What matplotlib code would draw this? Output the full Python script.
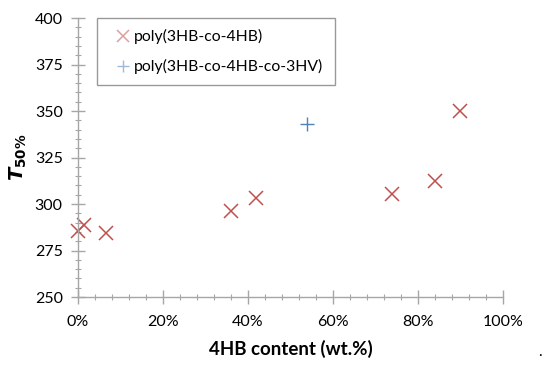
import matplotlib
matplotlib.use("Agg")
import matplotlib.pyplot as plt
from matplotlib.ticker import MultipleLocator, PercentFormatter

plt.rcParams['font.family'] = ['Lato', 'DejaVu Sans']

x1 = [0.0, 1.5, 6.5, 36.0, 42.0, 74.0, 84.0, 90.0]
y1 = [285.5, 288.5, 284.5, 296.0, 303.0, 305.5, 312.5, 350.0]
x2 = [54.0]
y2 = [343.0]
label1 = "poly(3HB-co-4HB)"
label2 = "poly(3HB-co-4HB-co-3HV)"

fig = plt.figure(figsize=(5.5, 3.66), dpi=100)
ax = fig.add_axes([0.1418, 0.1885, 0.7727, 0.7623])
ax.plot(x1, y1, linestyle='none', marker='x', color='#C0504D', markersize=10, markeredgewidth=1.1, label=label1, clip_on=False)
ax.plot(x2, y2, linestyle='none', marker='+', color='#4F81BD', markersize=10, markeredgewidth=1.0, label=label2, clip_on=False)

ax.set_xlim(0, 100)
ax.set_ylim(250, 400)
ax.xaxis.set_major_locator(MultipleLocator(20))
ax.xaxis.set_minor_locator(MultipleLocator(4))
ax.yaxis.set_major_locator(MultipleLocator(25))
ax.yaxis.set_minor_locator(MultipleLocator(5))
ax.xaxis.set_major_formatter(PercentFormatter(decimals=0))

for s in ['top', 'right']:
    ax.spines[s].set_visible(False)
for s in ['left', 'bottom']:
    ax.spines[s].set_color('#A6A6A6')
    ax.spines[s].set_linewidth(1.0)
ax.tick_params(which='major', direction='inout', length=10, width=1.0, color='#A6A6A6', labelsize=11.5)
ax.tick_params(which='minor', direction='inout', length=5, width=0.8, color='#A6A6A6')
ax.tick_params(axis='x', which='major', pad=8)
ax.tick_params(axis='y', which='major', pad=6)

ax.set_xlabel("4HB content (wt.%)", fontsize=13.5, fontweight='bold', labelpad=8)
ax.set_ylabel(r"$\boldsymbol{T}_{\mathbf{50\%}}$", fontsize=14, labelpad=4)

leg = ax.legend(loc='upper left', bbox_to_anchor=(0.044, 1.0), fontsize=11.3, frameon=True,
                fancybox=False, edgecolor='#808080', handlelength=2.0, handletextpad=-0.3,
                labelspacing=0.95, borderpad=0.7, borderaxespad=0.0)
leg.get_frame().set_linewidth(1.0)
for h in leg.legend_handles:
    h.set_alpha(0.55)
    h.set_markersize(8)

fig.text(0.982, 0.02, ".", fontsize=11, ha='center', va='bottom')

fig.savefig("out.png", dpi=100)
